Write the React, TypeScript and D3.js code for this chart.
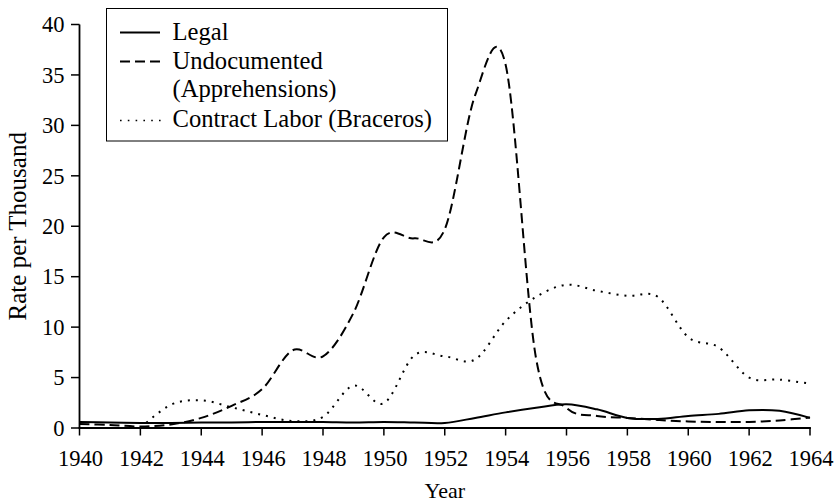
import React from "react";
import * as d3 from "d3";

const years = [1940, 1941, 1942, 1943, 1944, 1945, 1946, 1947, 1948, 1949, 1950, 1951, 1952, 1953, 1954, 1955, 1956, 1957, 1958, 1959, 1960, 1961, 1962, 1963, 1964];
const legal = [0.6, 0.55, 0.5, 0.5, 0.55, 0.55, 0.6, 0.6, 0.6, 0.55, 0.6, 0.55, 0.5, 1.0, 1.55, 2.0, 2.35, 1.85, 1.0, 0.9, 1.2, 1.4, 1.75, 1.7, 1.0];
const undocumented = [0.4, 0.3, 0.15, 0.35, 1.0, 2.2, 3.85, 7.7, 7.1, 11.4, 18.9, 18.8, 19.7, 33.0, 36.0, 6.9, 2.0, 1.2, 1.0, 0.8, 0.65, 0.6, 0.6, 0.75, 1.05];
const contractLabor: (number | null)[] = [null, null, 0, 2.3, 2.75, 2.05, 1.3, 0.7, 1.1, 4.2, 2.45, 7.2, 7.1, 6.8, 10.6, 13.0, 14.2, 13.6, 13.1, 13.0, 9.0, 8.0, 5.0, 4.8, 4.4];

const xTicks = [1940, 1942, 1944, 1946, 1948, 1950, 1952, 1954, 1956, 1958, 1960, 1962, 1964];
const yTicks = [0, 5, 10, 15, 20, 25, 30, 35, 40];

const legendLabels = ["Legal", "Undocumented", "(Apprehensions)", "Contract Labor (Braceros)"];
const xTitle = "Year";
const yTitle = "Rate per Thousand";

const W = 837;
const H = 503;
const FONT = "'Liberation Serif', 'Times New Roman', serif";

export default function App() {
  const x = d3.scaleLinear().domain([1940, 1964]).range([79.5, 810]);
  const y = d3.scaleLinear().domain([0, 40]).range([428, 24.5]);

  const mk = (vals: (number | null)[]) =>
    d3
      .line<number>()
      .defined((_, i) => vals[i] !== null && vals[i] !== undefined)
      .x((d) => x(d))
      .y((_, i) => y(vals[i] as number))
      .curve(d3.curveCardinal.tension(0))(years) || "";

  const styles = [
    { vals: legal, dash: "none" },
    { vals: undocumented, dash: "10 5" },
    { vals: contractLabor, dash: "2 6" },
  ];

  const x0 = x(1940);
  const x1 = x(1964);
  const yBase = y(0);
  const yTop = y(40);

  // legend layout
  const lgX = 106.5, lgY = 8.5, lgW = 341, lgH = 132.5;
  const sampleX0 = 120, sampleX1 = 160, textX = 172.5;
  const baselines = [40, 68.5, 97, 126.5];

  return (
    <div style={{ position: "absolute", left: 0, top: 0 }}>
      <svg width={W} height={H} style={{ display: "block", background: "#fff" }} fontFamily={FONT}>
        <rect x={0} y={0} width={W} height={H} fill="#fff" />
        {/* series */}
        {styles.map((s, i) => (
          <path
            key={i}
            d={mk(s.vals)}
            fill="none"
            stroke="#000"
            strokeWidth={2}
            strokeDasharray={s.dash}
            strokeLinejoin="round"
          />
        ))}
        {/* axes */}
        <line x1={x0} x2={x0} y1={yTop} y2={yBase} stroke="#000" strokeWidth={1.8} />
        <line x1={x0 - 0.9} x2={x1 + 0.9} y1={yBase} y2={yBase} stroke="#000" strokeWidth={1.8} />
        {yTicks.map((t) => (
          <g key={"y" + t}>
            <line x1={x0 - 8.5} x2={x0} y1={y(t)} y2={y(t)} stroke="#000" strokeWidth={1.5} />
            <text x={x0 - 15} y={y(t) + 7.8} textAnchor="end" fontSize={22.5} fill="#000">
              {t}
            </text>
          </g>
        ))}
        {xTicks.map((t) => (
          <g key={"x" + t}>
            <line x1={x(t)} x2={x(t)} y1={yBase} y2={yBase + 7.5} stroke="#000" strokeWidth={1.5} />
            <text x={x(t) + 1} y={466} textAnchor="middle" fontSize={22.5} fill="#000">
              {t}
            </text>
          </g>
        ))}
        <text x={(x0 + x1) / 2} y={497.5} textAnchor="middle" fontSize={22} fill="#000">
          {xTitle}
        </text>
        <text
          transform={`translate(26,${(yTop + yBase) / 2}) rotate(-90)`}
          textAnchor="middle"
          fontSize={25}
          fill="#000"
        >
          {yTitle}
        </text>
        {/* legend */}
        <rect x={lgX} y={lgY} width={lgW} height={lgH} fill="#fff" stroke="#000" strokeWidth={1} />
        <line x1={sampleX0} x2={sampleX1} y1={baselines[0] - 7.5} y2={baselines[0] - 7.5} stroke="#000" strokeWidth={2} />
        <line x1={sampleX0} x2={sampleX1} y1={baselines[1] - 7} y2={baselines[1] - 7} stroke="#000" strokeWidth={2} strokeDasharray="10 5" />
        <line x1={sampleX0} x2={sampleX1 + 2} y1={baselines[3] - 6} y2={baselines[3] - 6} stroke="#000" strokeWidth={1.6} strokeDasharray="1.6 6.2" />
        {legendLabels.map((l, i) => (
          <text key={l} x={textX} y={baselines[i]} fontSize={24.6} fill="#000">
            {l}
          </text>
        ))}
      </svg>
    </div>
  );
}
